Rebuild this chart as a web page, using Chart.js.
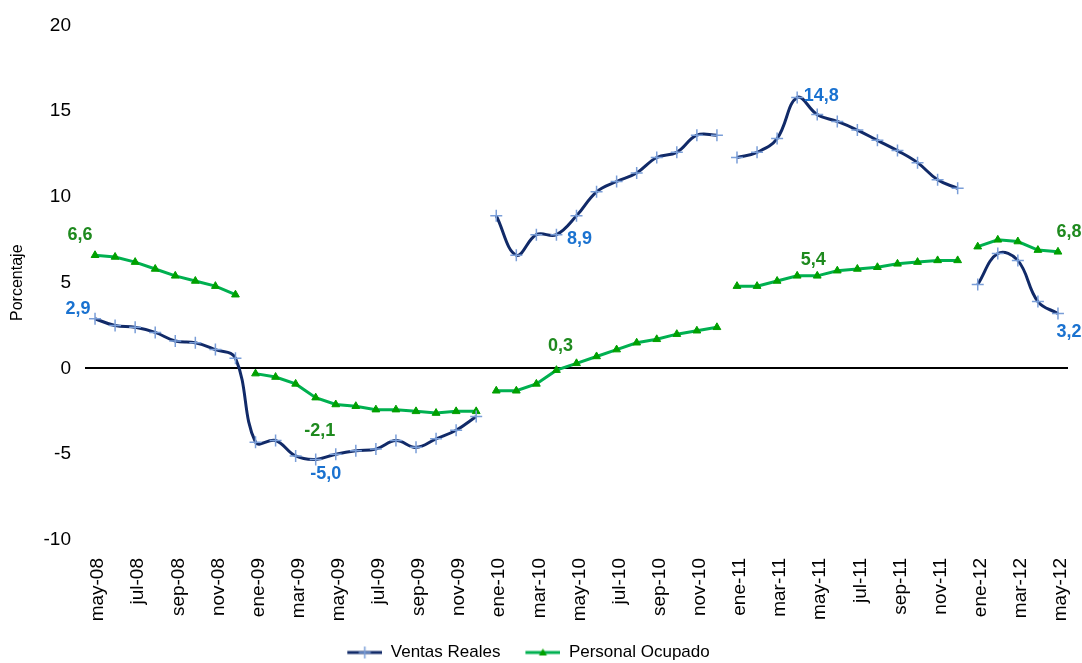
<!DOCTYPE html>
<html>
<head>
<meta charset="utf-8">
<script src="https://cdn.jsdelivr.net/npm/chart.js@4.4.1/dist/chart.umd.min.js"></script>
<style>
  html, body { margin: 0; padding: 0; background: #fff; }
</style>
</head>
<body>
<canvas id="grafico" width="1082" height="663"></canvas>
<script>
// meses, may-08 a may-12
const meses = [
  'may-08','jun-08','jul-08','ago-08','sep-08','oct-08','nov-08','dic-08',
  'ene-09','feb-09','mar-09','abr-09','may-09','jun-09','jul-09','ago-09','sep-09','oct-09','nov-09','dic-09',
  'ene-10','feb-10','mar-10','abr-10','may-10','jun-10','jul-10','ago-10','sep-10','oct-10','nov-10','dic-10',
  'ene-11','feb-11','mar-11','abr-11','may-11','jun-11','jul-11','ago-11','sep-11','oct-11','nov-11','dic-11',
  'ene-12','feb-12','mar-12','abr-12','may-12'
];

const ventasReales = [
  2.9, 2.5, 2.4, 2.1, 1.6, 1.5, 1.1, 0.6,
  -4.3, -4.2, -5.1, -5.3, -5.0, -4.8, -4.7, -4.2, -4.6, -4.1, -3.6, -2.8,
  8.9, 6.6, 7.8, 7.8, 8.9, 10.3, 10.9, 11.4, 12.3, 12.6, 13.6, 13.6,
  12.3, 12.6, 13.4, 15.8, 14.8, 14.4, 13.9, 13.3, 12.7, 12.0, 11.0, 10.5,
  4.9, 6.7, 6.3, 3.9, 3.2
];

const personalOcupado = [
  6.6, 6.5, 6.2, 5.8, 5.4, 5.1, 4.8, 4.3,
  -0.3, -0.5, -0.9, -1.7, -2.1, -2.2, -2.4, -2.4, -2.5, -2.6, -2.5, -2.5,
  -1.3, -1.3, -0.9, -0.1, 0.3, 0.7, 1.1, 1.5, 1.7, 2.0, 2.2, 2.4,
  4.8, 4.8, 5.1, 5.4, 5.4, 5.7, 5.8, 5.9, 6.1, 6.2, 6.3, 6.3,
  7.1, 7.5, 7.4, 6.9, 6.8
];

// donde se corta cada serie
const cortesVentas = ['ene-10', 'ene-11', 'ene-12'];
const cortesPersonal = ['ene-09', 'ene-10', 'ene-11', 'ene-12'];

// meses con etiqueta de valor
const mesesEtiquetados = ['may-08', 'may-09', 'may-10', 'may-11', 'may-12'];

const FUENTE = '"Liberation Sans", Arial, sans-serif';
Chart.defaults.font.family = FUENTE;
Chart.defaults.color = '#000';

const AZUL = '#112a68';
const AZUL_MARCA = '#7a9ed8';
const VERDE = '#00b050';
const VERDE_MARCA = '#00a000';

function tramos(serie, cortes) {
  const inicios = [0, ...cortes.map(c => meses.indexOf(c)), serie.length];
  const out = [];
  for (let k = 0; k < inicios.length - 1; k++) {
    out.push(serie.map((v, i) => (i >= inicios[k] && i < inicios[k + 1]) ? v : null));
  }
  return out;
}

// muestra de leyenda: 15px en blanco + 35px de linea con la marca
function muestraLeyenda(color, marca) {
  const c = document.createElement('canvas');
  c.width = 50; c.height = 14;
  const g = c.getContext('2d');
  g.strokeStyle = color; g.lineWidth = 3;
  g.beginPath(); g.moveTo(15, 7); g.lineTo(50, 7); g.stroke();
  if (marca === 'cruz') {
    g.strokeStyle = AZUL_MARCA; g.lineWidth = 1.5;
    g.beginPath();
    g.moveTo(32.5, 1); g.lineTo(32.5, 13);
    g.moveTo(26.5, 7); g.lineTo(38.5, 7);
    g.stroke();
  } else {
    g.fillStyle = VERDE_MARCA;
    g.beginPath();
    g.moveTo(32.5, 3); g.lineTo(36.5, 10); g.lineTo(28.5, 10);
    g.closePath(); g.fill();
  }
  return c;
}

const datasets = [];
tramos(ventasReales, cortesVentas).forEach((d, k) => {
  datasets.push({
    label: 'Ventas Reales',
    data: d,
    primero: k === 0,
    borderColor: AZUL,
    backgroundColor: AZUL,
    borderWidth: 3,
    tension: 0.4,
    pointStyle: 'cross',
    pointRadius: 6,
    pointBorderColor: AZUL_MARCA,
    pointBackgroundColor: AZUL_MARCA,
    pointBorderWidth: 1.5,
    muestra: muestraLeyenda(AZUL, 'cruz')
  });
});
tramos(personalOcupado, cortesPersonal).forEach((d, k) => {
  datasets.push({
    label: 'Personal Ocupado',
    data: d,
    primero: k === 0,
    borderColor: VERDE,
    backgroundColor: VERDE,
    borderWidth: 3,
    tension: 0,
    pointStyle: 'triangle',
    pointRadius: 4.5,
    pointBorderColor: VERDE_MARCA,
    pointBackgroundColor: VERDE_MARCA,
    pointBorderWidth: 1,
    muestra: muestraLeyenda(VERDE, 'triangulo')
  });
});

const etiquetasPlugin = {
  id: 'etiquetas',
  afterDatasetsDraw(chart, args, opts) {
    const { ctx, scales: { x, y } } = chart;
    ctx.save();
    ctx.font = 'bold 18px ' + FUENTE;
    ctx.textAlign = 'center';
    ctx.textBaseline = 'middle';
    opts.series.forEach(s => {
      mesesEtiquetados.forEach((m, k) => {
        const i = meses.indexOf(m);
        const v = s.valores[i];
        ctx.fillStyle = s.color;
        ctx.fillText(v.toFixed(1).replace('.', ','),
          x.getPixelForValue(i) + s.desplaz[k][0],
          y.getPixelForValue(v) + s.desplaz[k][1]);
      });
    });
    ctx.restore();
  }
};

const moverLeyenda = {
  id: 'moverLeyenda',
  afterLayout(chart) {
    const l = chart.legend;
    l.top += 8; l.bottom += 8;
    l.left -= 13; l.right -= 13;
  }
};

new Chart(document.getElementById('grafico'), {
  type: 'line',
  data: { labels: meses, datasets },
  plugins: [etiquetasPlugin, moverLeyenda],
  options: {
    responsive: false,
    animation: false,
    spanGaps: false,
    layout: { padding: { top: 22, right: 14, left: 0, bottom: 0 } },
    plugins: {
      tooltip: { enabled: false },
      legend: {
        position: 'bottom',
        labels: {
          usePointStyle: true,
          pointStyleWidth: 50,
          padding: 10,
          font: { size: 17 },
          color: '#000',
          filter: (item, data) => data.datasets[item.datasetIndex].primero,
          generateLabels(chart) {
            return chart.data.datasets.map((ds, i) => ({
              text: ds.label,
              datasetIndex: i,
              pointStyle: ds.muestra,
              fillStyle: ds.borderColor,
              strokeStyle: ds.borderColor,
              lineWidth: 0,
              hidden: false
            }));
          }
        }
      },
      etiquetas: {
        series: [
          { valores: ventasReales, color: '#1a72d0',
            desplaz: [[-17, -10], [-10, 20], [3, 23], [4, -19], [11, 18]] },
          { valores: personalOcupado, color: '#1f8a1f',
            desplaz: [[-15, -20], [-16, 27], [-16, -17], [-4, -16], [11, -20]] }
        ]
      }
    },
    scales: {
      x: {
        offset: true,
        grid: { display: false, drawTicks: false },
        border: { display: false },
        ticks: {
          autoSkip: false,
          maxRotation: 90,
          minRotation: 90,
          padding: 18,
          labelOffset: 3,
          font: { size: 19 },
          color: '#000',
          callback: (v, i) => (i % 2 === 0 ? meses[i] : '')
        },
        afterFit(s) {
          s.height = 86;
          s.paddingLeft = 0;
          s.paddingRight = 0;
        }
      },
      y: {
        min: -10,
        max: 20,
        border: { display: false },
        grid: {
          drawTicks: false,
          lineWidth: 2,
          color: c => (c.tick && c.tick.value === 0 ? '#000' : 'rgba(0,0,0,0)')
        },
        ticks: {
          stepSize: 5,
          padding: 14,
          font: { size: 19 },
          color: '#000',
          callback: v => String(v)
        },
        title: {
          display: true,
          text: 'Porcentaje',
          font: { size: 16 },
          color: '#000',
          padding: { top: 8, bottom: 0 }
        },
        afterFit(s) { s.width = 85; }
      }
    }
  }
});
</script>
</body>
</html>
